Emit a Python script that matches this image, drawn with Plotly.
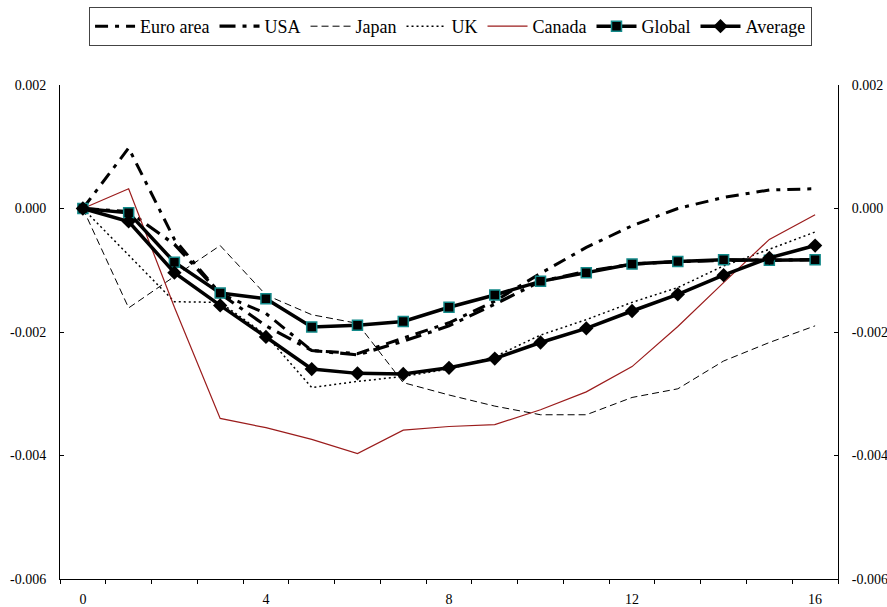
import plotly.graph_objects as go

periods = list(range(17))
euro_area = [0, 0.00098, -0.0005, -0.00138, -0.0017, -0.0023, -0.00235, -0.0021, -0.00185,
             -0.0015, -0.00105, -0.00063, -0.00028, 0.0, 0.00018, 0.0003, 0.00032]
usa = [0, -0.00005, -0.00058, -0.00138, -0.0019, -0.0023, -0.00237, -0.00215, -0.0019,
       -0.00155, -0.00118, -0.00102, -0.0009, -0.00086, -0.00084, -0.00083, -0.00083]
japan = [0, -0.00161, -0.0011, -0.0006, -0.0014, -0.00172, -0.00186, -0.00282, -0.00302,
         -0.0032, -0.00334, -0.00334, -0.00306, -0.00292, -0.00247, -0.00217, -0.0019]
uk = [0, -0.00075, -0.00151, -0.00152, -0.00205, -0.0029, -0.0028, -0.00272, -0.0026,
      -0.0024, -0.00205, -0.0018, -0.00152, -0.00128, -0.00093, -0.00066, -0.00038]
canada = [0, 0.00032, -0.0016, -0.0034, -0.00355, -0.00374, -0.00397, -0.00359, -0.00353,
          -0.0035, -0.00326, -0.00297, -0.00256, -0.00191, -0.0012, -0.0005, -0.0001]
global_ = [0, -0.00007, -0.00087, -0.00137, -0.00146, -0.00192, -0.00189, -0.00183, -0.0016,
           -0.0014, -0.00118, -0.00104, -0.0009, -0.00086, -0.00083, -0.00084, -0.00083]
average = [0, -0.00021, -0.00104, -0.00157, -0.00208, -0.0026, -0.00267, -0.00268, -0.00258,
           -0.00243, -0.00217, -0.00194, -0.00166, -0.00139, -0.00108, -0.0008, -0.0006]

y_ticks = [0.002, 0.0, -0.002, -0.004, -0.006]
y_labels = ["0.002", "0.000", "-0.002", "-0.004", "-0.006"]
x_ticks = [0, 4, 8, 12, 16]

FONT = "'Liberation Serif', 'Times New Roman', Times, serif"

fig = go.Figure()
fig.add_trace(go.Scatter(x=periods, y=euro_area, name="Euro area", mode="lines",
                         line=dict(color="black", width=3, dash="13px,7px,4px,7px")))
fig.add_trace(go.Scatter(x=periods, y=usa, name="USA", mode="lines",
                         line=dict(color="black", width=3.2, dash="16px,7px,4px,7px")))
fig.add_trace(go.Scatter(x=periods, y=japan, name="Japan", mode="lines",
                         line=dict(color="black", width=1, dash="7px,4px")))
fig.add_trace(go.Scatter(x=periods, y=uk, name="UK", mode="lines",
                         line=dict(color="black", width=1.5, dash="2px,3px")))
fig.add_trace(go.Scatter(x=periods, y=canada, name="Canada", mode="lines",
                         line=dict(color="#9b1c1c", width=1.2)))
fig.add_trace(go.Scatter(x=periods, y=global_, name="Global", mode="lines+markers",
                         line=dict(color="black", width=3.5),
                         marker=dict(symbol="square", size=10, color="black",
                                     line=dict(color="#138a8a", width=1.5))))
fig.add_trace(go.Scatter(x=periods, y=average, name="Average", mode="lines+markers",
                         line=dict(color="black", width=3.5),
                         marker=dict(symbol="diamond", size=11, color="black",
                                     line=dict(width=0))))
# invisible trace to activate the right-hand y axis
fig.add_trace(go.Scatter(x=[periods[0]], y=[y_ticks[1]], yaxis="y2", mode="lines",
                         showlegend=False, hoverinfo="skip", line=dict(width=0)))

fig.update_layout(
    width=887, height=607,
    margin=dict(l=60, r=49, t=85, b=28, autoexpand=False),
    paper_bgcolor="white", plot_bgcolor="white",
    font=dict(family=FONT, size=14, color="black"),
    showlegend=True,
    legend=dict(orientation="h", x=0.502, xanchor="center", y=1.1579, yanchor="top",
                font=dict(family=FONT, size=18, color="black"),
                bordercolor="#444", borderwidth=1, bgcolor="white",
                itemwidth=40, tracegroupgap=0),
    xaxis=dict(range=[-0.5, 16.5], tickvals=x_ticks, ticktext=[str(v) for v in x_ticks],
               ticks="", showgrid=False, zeroline=False, showline=True,
               linecolor="black", linewidth=1, ticklabelstandoff=7,
               minor=dict(tick0=-0.5, dtick=1, ticks="outside", ticklen=4,
                          tickcolor="black", showgrid=False)),
    yaxis=dict(range=[-0.006, 0.002], tickvals=y_ticks, ticktext=y_labels,
               ticks="inside", ticklen=4, tickcolor="black", showgrid=False,
               zeroline=False, showline=True, linecolor="black", linewidth=1,
               ticklabelstandoff=10),
    yaxis2=dict(range=[-0.006, 0.002], tickvals=y_ticks, ticktext=y_labels,
                overlaying="y", side="right", ticks="inside", ticklen=4,
                tickcolor="black", showgrid=False, zeroline=False, showline=True,
                linecolor="black", linewidth=1, ticklabelstandoff=10),
)

fig.write_html(
    "out.html",
    config={"displayModeBar": False},
    post_script="document.body.style.margin='0';document.body.style.overflow='hidden';",
)
